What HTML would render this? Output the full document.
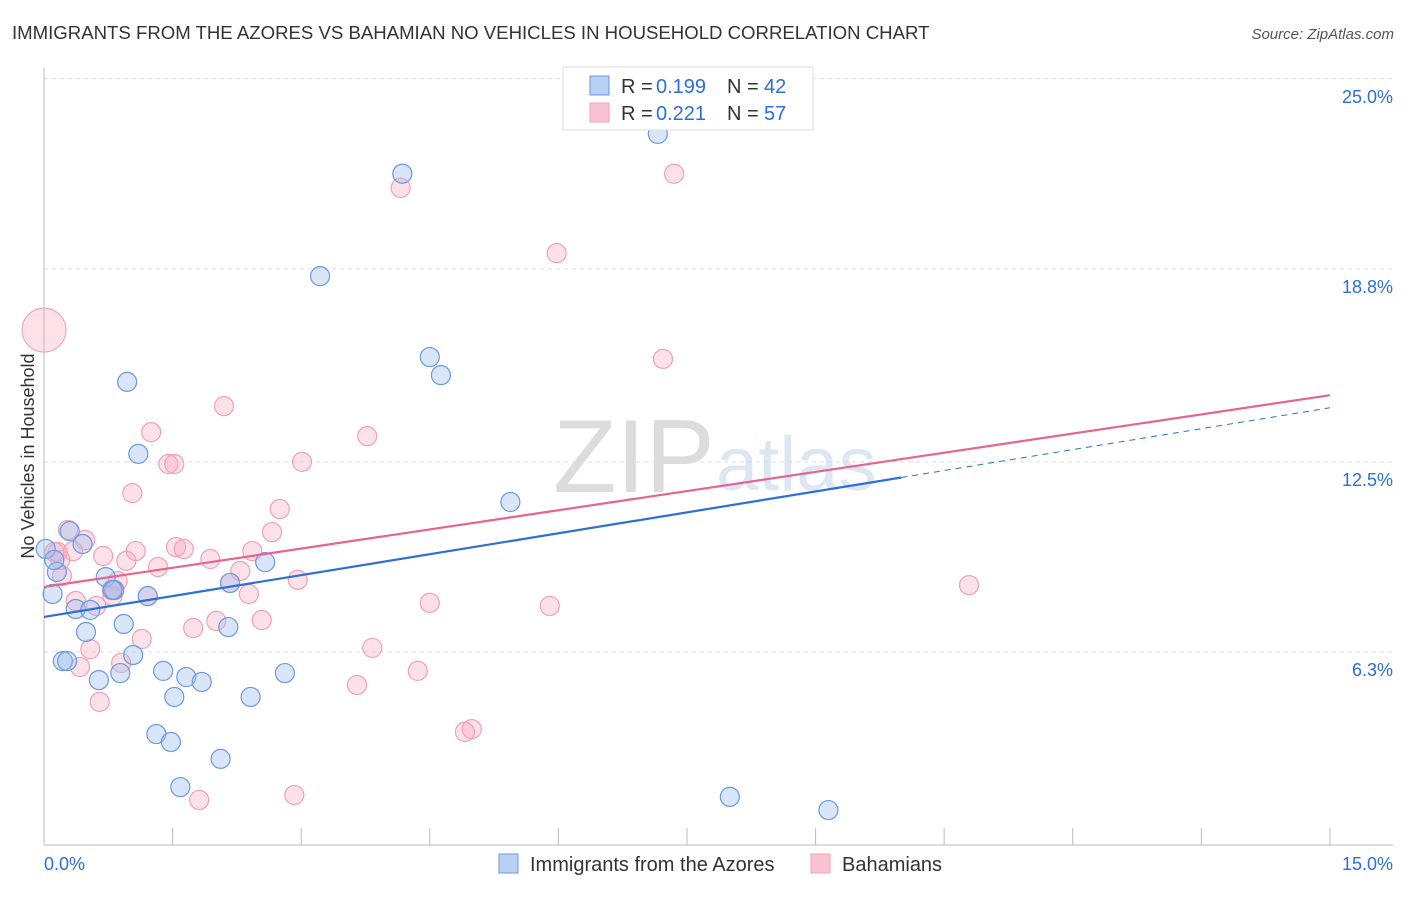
<!DOCTYPE html>
<html><head><meta charset="utf-8"><style>
body{margin:0;background:#fff;font-family:"Liberation Sans",sans-serif;}
svg text{font-family:"Liberation Sans",sans-serif;}
</style></head><body>
<svg id="c" width="1406" height="892" xmlns="http://www.w3.org/2000/svg">
<text x="12" y="39" font-size="18.6" fill="#333">IMMIGRANTS FROM THE AZORES VS BAHAMIAN NO VEHICLES IN HOUSEHOLD CORRELATION CHART</text>
<text x="1394" y="39" font-size="15" fill="#555" text-anchor="end" font-style="italic">Source: ZipAtlas.com</text>
<g><text x="553" y="492" font-size="104" fill="#d6d6d6" font-family="Liberation Serif" opacity="0.85">ZIP</text><text x="716" y="490" font-size="76" fill="#c8d8ee" opacity="0.6">atlas</text></g>
<g id="grid"></g><g id="axes"></g><g id="marks"></g>
<text transform="translate(34,456) rotate(-90)" font-size="18" fill="#333" text-anchor="middle">No Vehicles in Household</text>
<g>
<rect x="563" y="67" width="250" height="63" fill="#fff" stroke="#ddd"/>
<rect x="590" y="76" width="19" height="19" fill="#b8d0f4" stroke="#6a9ae0"/>
<rect x="590" y="103" width="19" height="19" fill="#f8c4d2" stroke="#f0a0b8"/>
<text x="621" y="93" font-size="20" fill="#333">R = </text><text x="656" y="93" font-size="20" fill="#2d6fd6">0.199</text>
<text x="727" y="93" font-size="20" fill="#333">N = </text><text x="764" y="93" font-size="20" fill="#2d6fd6">42</text>
<text x="621" y="120" font-size="20" fill="#333">R = </text><text x="656" y="120" font-size="20" fill="#2d6fd6">0.221</text>
<text x="727" y="120" font-size="20" fill="#333">N = </text><text x="764" y="120" font-size="20" fill="#2d6fd6">57</text>
</g>
<g>
<rect x="499" y="854" width="19" height="19" fill="#b8d0f4" stroke="#6a9ae0"/>
<text x="530" y="871" font-size="20" fill="#333">Immigrants from the Azores</text>
<rect x="811" y="854" width="19" height="19" fill="#f8c4d2" stroke="#f0a0b8"/>
<text x="842" y="871" font-size="20" fill="#333">Bahamians</text>
</g>
</svg>
<script>
const yTicks=[6.3,12.5,18.8,25.0];
const yTickLabels=["6.3%","12.5%","18.8%","25.0%"];
const xTickCount=10;
const xLabels=["0.0%","15.0%"];
const blueX=[7.16,4.18,3.22,4.50,4.63,0.97,1.10,5.44,0.30,0.45,0.02,0.15,2.58,0.72,0.82,0.10,1.21,2.17,0.37,0.54,0.49,0.93,2.15,1.04,0.22,0.27,0.64,0.89,1.39,1.66,1.84,2.81,1.52,2.41,1.31,1.48,2.06,1.59,8.00,9.15,0.12,0.80];
const blueY=[23.2,21.9,18.56,15.92,15.33,15.11,12.76,11.19,10.24,9.82,9.66,8.91,9.23,8.74,8.32,8.19,8.12,8.55,7.70,7.67,6.95,7.21,7.11,6.20,6.00,6.00,5.38,5.61,5.68,5.48,5.32,5.61,4.83,4.83,3.62,3.36,2.81,1.89,1.57,1.14,9.30,8.32];
const pinkX=[7.35,4.16,5.98,7.22,2.10,1.25,3.77,1.45,1.52,3.01,1.03,2.75,0.28,0.48,0.16,0.34,2.66,0.69,1.07,1.54,1.63,0.96,1.94,2.43,1.33,2.29,0.21,0.86,2.17,2.96,10.79,1.21,0.80,0.37,0.61,2.39,4.50,5.90,2.01,2.54,1.74,1.14,3.83,0.54,0.90,0.42,4.36,3.65,0.65,4.99,4.91,1.81,2.92,0.12,0.79,0.19];
const pinkY=[21.9,21.44,19.31,15.86,14.32,13.47,13.34,12.43,12.43,12.50,11.48,10.96,10.28,9.95,9.56,9.59,10.21,9.43,9.59,9.72,9.66,9.27,9.33,9.59,9.07,8.94,8.78,8.61,8.55,8.65,8.48,8.12,8.12,7.96,7.80,8.19,7.90,7.80,7.31,7.34,7.08,6.72,6.43,6.39,5.94,5.81,5.68,5.22,4.67,3.78,3.69,1.47,1.63,9.56,8.32,9.30];
const bigPink=[0,16.8];
const blueTrend=[7.44,0.455];
const pinkTrend=[8.42,0.417];
const blueSolidEnd=10;
const NS="http://www.w3.org/2000/svg";
const X=v=>44+v*85.73, Y=v=>845-v*30.65;
function mk(tag,attrs,parent){const e=document.createElementNS(NS,tag);for(const k in attrs)e.setAttribute(k,attrs[k]);document.getElementById(parent).appendChild(e);return e;}
yTicks.forEach((t,i)=>{
 const l=mk('line',{x1:44,x2:1393,y1:Y(t),y2:Y(t),stroke:'#ddd','stroke-dasharray':'4,4'},'grid');
 
 
 const tx=mk('text',{x:1393,y:Y(t)+24,'font-size':18,fill:'#2d6fd6','text-anchor':'end'},'axes');
 tx.textContent=yTickLabels[i];
 
 
});
let a=mk('line',{x1:44,x2:44,y1:68,y2:845,stroke:'#bbb'},'axes');


a=mk('line',{x1:44,x2:1393,y1:845,y2:845,stroke:'#bbb'},'axes');


for(let i=1;i<=xTickCount;i++){const t=mk('line',{x1:X(i*1.5),x2:X(i*1.5),y1:828,y2:845,stroke:'#bbb'},'axes');
 
 }
let t0=mk('text',{x:44,y:870,'font-size':18,fill:'#2d6fd6'},'axes');t0.textContent=xLabels[0];


let t1=mk('text',{x:1393,y:870,'font-size':18,fill:'#2d6fd6','text-anchor':'end'},'axes');t1.textContent=xLabels[1];


let bp=mk('circle',{cx:X(bigPink[0]),cy:Y(bigPink[1]),r:22,fill:'rgba(245,170,190,0.35)',stroke:'#f0a0b8'},'marks');


pinkX.forEach((x,i)=>{const c=mk('circle',{cx:X(x),cy:Y(pinkY[i]),r:9.5,fill:'rgba(245,170,190,0.35)',stroke:'#f0a0b8','stroke-width':1.2},'marks');
 
 });
blueX.forEach((x,i)=>{const c=mk('circle',{cx:X(x),cy:Y(blueY[i]),r:9.5,fill:'rgba(160,190,240,0.4)',stroke:'#6a9ae0','stroke-width':1.2},'marks');
 
 });
const f=(tr,x)=>tr[0]+tr[1]*x;
let L=mk('line',{x1:X(0),y1:Y(f(blueTrend,0)),x2:X(blueSolidEnd),y2:Y(f(blueTrend,blueSolidEnd)),stroke:'#2d6fd6','stroke-width':2.2},'marks');


L=mk('line',{x1:X(blueSolidEnd),y1:Y(f(blueTrend,blueSolidEnd)),x2:X(15),y2:Y(f(blueTrend,15)),stroke:'#2d6fd6','stroke-width':1,'stroke-dasharray':'6,5'},'marks');


L=mk('line',{x1:X(0),y1:Y(f(pinkTrend,0)),x2:X(15),y2:Y(f(pinkTrend,15)),stroke:'#e8638f','stroke-width':2.2},'marks');


</script>
</body></html>
